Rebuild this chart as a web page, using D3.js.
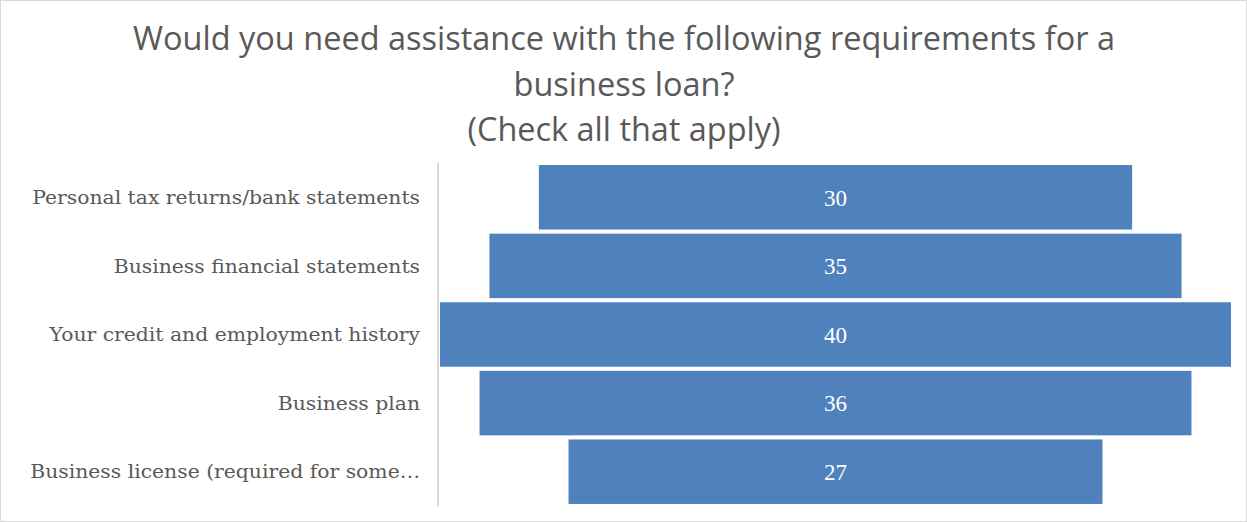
<!DOCTYPE html>
<html>
<head>
<meta charset="utf-8">
<script src="https://cdn.jsdelivr.net/npm/d3@7"></script>
<style>
  html, body { margin: 0; padding: 0; background: #fff; }
  svg { display: block; }
</style>
</head>
<body>
<svg id="chart" width="1247" height="522"></svg>
<script>
// Survey answers: how many respondents need help with each loan requirement
const categories = [
  "Personal tax returns/bank statements",
  "Business financial statements",
  "Your credit and employment history",
  "Business plan",
  "Business license (required for some\u2026"
];
const counts = [30, 35, 40, 36, 27];
const titleLines = [
  "Would you need assistance with the following requirements for a",
  "business loan?",
  "(Check all that apply)"
];

const W = 1247, H = 522;
const svg = d3.select("#chart");

// outer chart frame
svg.append("rect")
  .attr("x", 0.5).attr("y", 0.5)
  .attr("width", W - 1).attr("height", H - 1)
  .attr("fill", "#fff").attr("stroke", "#d9d9d9");

// title (condensed sans look)
const titleG = svg.append("g");
const titleBase = [50, 96, 141];
const titleWidths = [982, 221, 313];
titleLines.forEach((t, i) => {
  titleG.append("text")
    .attr("x", 624).attr("y", titleBase[i])
    .attr("text-anchor", "middle")
    .attr("font-family", "'Open Sans', sans-serif")
    .attr("font-size", 33)
    .attr("fill", "#595959")
    .attr("textLength", titleWidths[i])
    .attr("lengthAdjust", "spacingAndGlyphs")
    .text(t);
});

// plot area
const plot = { left: 440, right: 1231, top: 163, bottom: 506 };

const y = d3.scaleBand()
  .domain(categories)
  .range([plot.top, plot.bottom])
  .paddingInner(0.06)
  .paddingOuter(0.03);

const maxV = d3.max(counts);
// symmetric scale so each bar is centred (funnel layout)
const x = d3.scaleLinear()
  .domain([-maxV / 2, maxV / 2])
  .range([plot.left, plot.right]);

const data = categories.map((c, i) => ({ c, v: counts[i] }));

svg.append("g").selectAll("rect")
  .data(data)
  .join("rect")
  .attr("x", d => x(-d.v / 2))
  .attr("y", d => y(d.c))
  .attr("width", d => x(d.v / 2) - x(-d.v / 2))
  .attr("height", y.bandwidth())
  .attr("fill", "#4f81bd");

svg.append("g").selectAll("text")
  .data(data)
  .join("text")
  .attr("x", x(0))
  .attr("y", d => y(d.c) + y.bandwidth() / 2)
  .attr("dy", "0.36em")
  .attr("text-anchor", "middle")
  .attr("font-family", "'Liberation Serif', serif")
  .attr("font-size", 23)
  .attr("fill", "#fff")
  .text(d => d.v);

// category axis
const labelGap = 18;
const yAxis = svg.append("g")
  .attr("transform", `translate(${plot.left - 2},0)`)
  .call(d3.axisLeft(y).tickSize(0).tickPadding(labelGap));
yAxis.select(".domain")
  .attr("stroke", "#d9d9d9").attr("stroke-width", 2)
  .attr("d", `M0,${plot.top}V${plot.bottom}`);
const labels = yAxis.selectAll(".tick text")
  .attr("font-family", "'DejaVu Serif', serif")
  .attr("font-size", 18.5)
  .attr("dy", "0.36em")
  .attr("fill", "#595959");

// narrow the serif labels horizontally so the longest one fits the left margin
const w0 = labels.node().getComputedTextLength();
const squeeze = 388 / w0;
labels
  .attr("x", -labelGap / squeeze)
  .attr("transform", `scale(${squeeze},1)`);
</script>
</body>
</html>
